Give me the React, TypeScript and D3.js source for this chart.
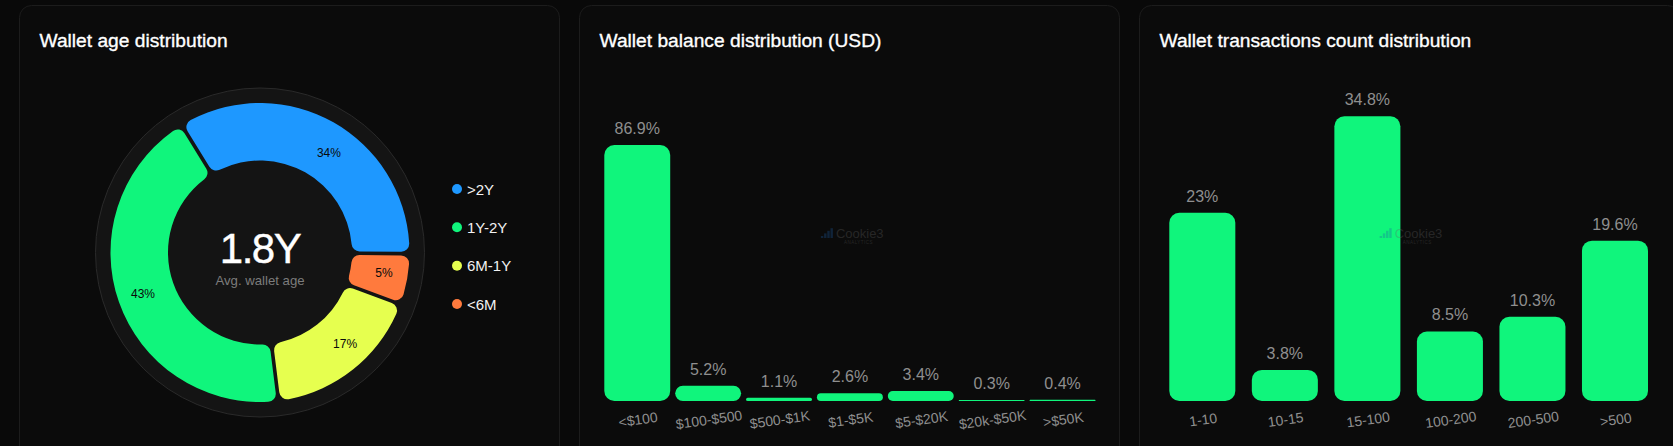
// Wallet stats: age donut plus balance and transaction count bars
import { useEffect, useRef } from "react"
import * as d3 from "d3"

const ageLabels = [">2Y", "1Y-2Y", "6M-1Y", "<6M"]
const ageValues = [33.9, 43.2, 17.4, 5.5]
const ageText = ["34%", "43%", "17%", "5%"]
const ageColors = ["#1e98ff", "#10f57c", "#e6ff4f", "#ff7a3d"]
// clockwise drawing order on the ring
const ageOrder = [0, 3, 2, 1]
// label nudges, the original does not sit them on the slice centroid
const ageNudgeX = [8, 0, 8, 2]
const ageNudgeY = [8, 0, -6, -2]

const balanceLabels = ["<$100", "$100-$500", "$500-$1K", "$1-$5K", "$5-$20K", "$20k-$50K", ">$50K"]
const balanceValues = [86.9, 5.2, 1.1, 2.6, 3.4, 0.3, 0.4]
const balanceText = ["86.9%", "5.2%", "1.1%", "2.6%", "3.4%", "0.3%", "0.4%"]

const txLabels = ["1-10", "10-15", "15-100", "100-200", "200-500", ">500"]
const txValues = [23, 3.8, 34.8, 8.5, 10.3, 19.6]
const txText = ["23%", "3.8%", "34.8%", "8.5%", "10.3%", "19.6%"]

const FONT = "'Liberation Sans', Arial, sans-serif"
const GREEN = "#10f57c"
const MUTED = "#8f8f8f"
const BASELINE = 401
const START_DEG = -31.6

export default function App() {
  const svgRef = useRef<SVGSVGElement>(null)

  useEffect(() => {
    if (!svgRef.current) return
    const svg = d3.select(svgRef.current)
    svg.selectAll("*").remove()
    svg.style("font-family", FONT)

    // Cards
    ;[{ x: 19.5, t: "Wallet age distribution" },
      { x: 579.5, t: "Wallet balance distribution (USD)" },
      { x: 1139.5, t: "Wallet transactions count distribution" }].forEach(c => {
      svg.append("rect")
        .attr("x", c.x).attr("y", 5.5)
        .attr("width", 540).attr("height", 470)
        .attr("rx", 12)
        .attr("fill", "#0b0b0b")
        .attr("stroke", "#1c1c1c")
      svg.append("text")
        .attr("x", c.x + 20).attr("y", 47)
        .attr("fill", "#fff")
        .attr("stroke", "#fff")
        .attr("stroke-width", 0.35)
        .attr("font-size", 19.2)
        .text(c.t)
    })

    // Donut
    const cx = 260, cy = 252.5
    const donut = svg.append("g").attr("transform", `translate(${cx},${cy})`)
    donut.append("circle").attr("r", 164.5).attr("fill", "#141414").attr("stroke", "#2a2a2a")

    const order = ageOrder.map(i => ({ i, v: ageValues[i] }))
    const pie = d3.pie<{ i: number; v: number }>()
      .value(d => d.v)
      .sort(null)
      .startAngle(START_DEG * Math.PI / 180)
      .endAngle((360 + START_DEG) * Math.PI / 180)
    const arc = d3.arc<d3.PieArcDatum<{ i: number; v: number }>>()
      .innerRadius(92)
      .outerRadius(149.5)
      .cornerRadius(8)
      .padAngle(0.024)
      .padRadius(150)
    const labelArc = d3.arc<d3.PieArcDatum<{ i: number; v: number }>>()
      .innerRadius(124)
      .outerRadius(124)

    const slices = pie(order)
    donut.selectAll("path.slice").data(slices).enter().append("path")
      .attr("class", "slice")
      .attr("d", arc)
      .attr("fill", d => ageColors[d.data.i])
    donut.selectAll("text.pct").data(slices).enter().append("text")
      .attr("class", "pct")
      .attr("transform", d => {
        const [lx, ly] = labelArc.centroid(d)
        return `translate(${lx + ageNudgeX[d.data.i]},${ly + ageNudgeY[d.data.i]})`
      })
      .attr("text-anchor", "middle")
      .attr("dy", "0.36em")
      .attr("font-size", 12)
      .attr("fill", "#0a0a0a")
      .text(d => ageText[d.data.i])

    donut.append("text")
      .attr("text-anchor", "middle").attr("y", 10.5)
      .attr("font-size", 42)
      .attr("stroke", "#fff")
      .attr("stroke-width", 0.4)
      .attr("letter-spacing", "-1.5")
      .attr("fill", "#fff")
      .text("1.8Y")
    donut.append("text")
      .attr("text-anchor", "middle").attr("y", 32)
      .attr("font-size", 13.2)
      .attr("fill", "#7c7c7c")
      .text("Avg. wallet age")

    // Legend
    const legendY = d3.scalePoint<string>().domain(ageLabels).range([189, 304])
    ageLabels.forEach((l, i) => {
      const y = legendY(l) as number
      svg.append("circle").attr("cx", 457).attr("cy", y).attr("r", 5).attr("fill", ageColors[i])
      svg.append("text")
        .attr("x", 467).attr("y", y + 5.5)
        .attr("font-size", 15)
        .attr("fill", "#f2f2f2")
        .text(l)
    })

    // Bar panels
    const drawBars = (labels: string[], values: number[], text: string[], x0: number, x1: number, top: number, pad: number) => {
      const x = d3.scaleBand<string>().domain(labels).range([x0, x1]).paddingInner(pad)
      const y = d3.scaleLinear().domain([0, d3.max(values) as number]).range([BASELINE, top])
      const g = svg.append("g")

      labels.forEach((l, i) => {
        const bx = x(l) as number
        const bw = x.bandwidth()
        const h = BASELINE - y(values[i])
        g.append("rect")
          .attr("x", bx).attr("y", y(values[i]))
          .attr("width", bw).attr("height", h)
          .attr("rx", Math.min(10, h / 2))
          .attr("fill", GREEN)
        g.append("text")
          .attr("x", bx + bw / 2).attr("y", y(values[i]) - 11)
          .attr("text-anchor", "middle")
          .attr("font-size", 16)
          .attr("fill", MUTED)
          .text(text[i])
        g.append("text")
          .attr("transform", `translate(${bx + bw / 2 + 1.5},424.5) rotate(-8)`)
          .attr("text-anchor", "middle")
          .attr("font-size", 14)
          .attr("fill", MUTED)
          .text(l)
      })

      // watermark sits over the bars
      const wx = (x0 + x1) / 2 - 29
      const wm = g.append("g").attr("transform", `translate(${wx},238)`).attr("opacity", 0.3)
      d3.range(4).forEach(i => {
        wm.append("rect")
          .attr("x", i * 3.2).attr("y", -2 - i * 2.6)
          .attr("width", 2.4).attr("height", 2 + i * 2.6)
          .attr("fill", "#1e5fa8")
      })
      wm.append("text").attr("x", 15).attr("font-size", 13).attr("fill", "#666").text("Cookie3")
      wm.append("text").attr("x", 23).attr("y", 5.5).attr("font-size", 4.5).attr("letter-spacing", "0.5").attr("fill", "#666").text("ANALYTICS")
    }

    drawBars(balanceLabels, balanceValues, balanceText, 604.3, 1095.5, 145, 0.07)
    drawBars(txLabels, txValues, txText, 1169.3, 1648, 116.3, 0.2)
  }, [])

  return (
    <svg
      ref={svgRef}
      width={1673}
      height={446}
      style={{ position: "fixed", left: 0, top: 0, background: "#090909" }}
    />
  )
}
